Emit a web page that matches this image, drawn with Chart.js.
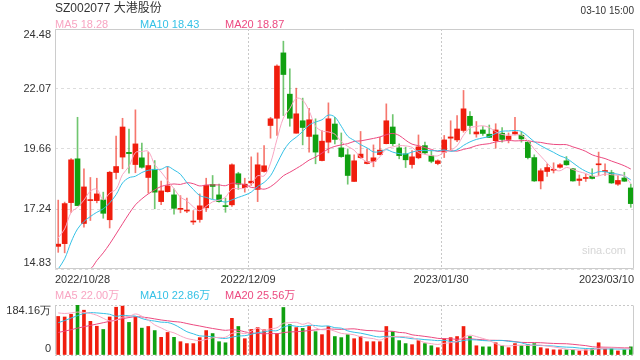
<!DOCTYPE html>
<html>
<head>
<meta charset="utf-8">
<script src="https://cdn.jsdelivr.net/npm/chart.js@4.4.0/dist/chart.umd.min.js"></script>
<style>
  body { margin: 0; background: #fff; }
  #wrap { position: relative; width: 640px; height: 360px; overflow: hidden; font-family: "Liberation Sans", Arial, "Noto Sans CJK SC", sans-serif; }
  #wrap canvas { position: absolute; left: 0; top: 0; }
  .t { position: absolute; white-space: nowrap; font-size: 11px; line-height: 11px; }
</style>
</head>
<body>
<div id="wrap">
  <canvas id="kline" width="640" height="360"></canvas>
  <canvas id="vol" width="640" height="360"></canvas>
  <div class="t" style="left:55px;top:2px;font-size:12px;line-height:12px;color:#333">SZ002077 大港股份</div>
  <div class="t" style="right:6px;top:6px;font-size:10px;line-height:10px;color:#333">03-10 15:00</div>
  <div class="t" style="left:55px;top:19px;color:#f8a5c2">MA5 18.28</div>
  <div class="t" style="left:140px;top:19px;color:#35c1e6">MA10 18.43</div>
  <div class="t" style="left:225px;top:19px;color:#ec4a80">MA20 18.87</div>
  <div class="t" style="left:55px;top:290px;color:#f8a5c2">MA5 22.00万</div>
  <div class="t" style="left:140px;top:290px;color:#35c1e6">MA10 22.86万</div>
  <div class="t" style="left:225px;top:290px;color:#ec4a80">MA20 25.56万</div>
  <div class="t" style="left:582px;top:245px;color:#d6d6d6">sina.com</div>
</div>
<script>
// 交易日
const dates = [
  '2022/10/28','2022/10/31',
  '2022/11/01','2022/11/02','2022/11/03','2022/11/04',
  '2022/11/07','2022/11/08','2022/11/09','2022/11/10','2022/11/11',
  '2022/11/14','2022/11/15','2022/11/16','2022/11/17','2022/11/18',
  '2022/11/21','2022/11/22','2022/11/23','2022/11/24','2022/11/25',
  '2022/11/28','2022/11/29','2022/11/30','2022/12/01','2022/12/02',
  '2022/12/05','2022/12/06','2022/12/07','2022/12/08','2022/12/09',
  '2022/12/12','2022/12/13','2022/12/14','2022/12/15','2022/12/16',
  '2022/12/19','2022/12/20','2022/12/21','2022/12/22','2022/12/23',
  '2022/12/26','2022/12/27','2022/12/28','2022/12/29','2022/12/30',
  '2023/01/03','2023/01/04','2023/01/05','2023/01/06',
  '2023/01/09','2023/01/10','2023/01/11','2023/01/12','2023/01/13',
  '2023/01/16','2023/01/17','2023/01/18','2023/01/19','2023/01/20',
  '2023/01/30','2023/01/31','2023/02/01','2023/02/02','2023/02/03',
  '2023/02/06','2023/02/07','2023/02/08','2023/02/09','2023/02/10',
  '2023/02/13','2023/02/14','2023/02/15','2023/02/16','2023/02/17',
  '2023/02/20','2023/02/21','2023/02/22','2023/02/23','2023/02/24',
  '2023/02/27','2023/02/28','2023/03/01','2023/03/02','2023/03/03',
  '2023/03/06','2023/03/07','2023/03/08','2023/03/09','2023/03/10'
];

// K线 开 收 高 低
const opens = [
  15.74,15.85,17.50,19.26,16.66,17.58,17.58,17.61,16.81,18.71,
  19.33,19.52,19.03,19.30,18.51,18.84,17.54,17.94,17.81,17.23,
  17.16,16.72,16.82,17.29,18.23,17.81,17.36,17.41,18.66,18.10,
  18.29,18.03,18.75,20.60,20.89,23.52,21.86,20.29,20.79,20.16,
  20.22,19.19,19.93,20.66,19.70,19.42,18.35,19.31,19.07,19.16,
  19.43,19.87,20.54,19.70,19.46,19.03,19.30,19.79,19.38,19.07,
  19.53,20.09,20.02,20.40,20.97,20.26,20.42,20.25,19.99,20.29,
  20.04,20.26,20.21,19.93,19.31,18.37,18.75,18.80,18.92,19.18,
  18.86,18.39,18.47,18.56,19.02,18.75,18.70,18.24,18.49,18.09
];
const closes = [
  15.83,17.46,19.22,17.38,18.13,17.62,17.85,17.07,18.72,18.95,
  20.54,19.47,19.86,18.92,18.99,17.92,17.97,18.17,17.27,17.26,
  17.19,16.75,17.37,18.19,18.15,17.54,17.34,19.02,18.24,18.24,
  18.36,19.02,18.98,20.87,22.99,22.65,20.89,21.07,20.52,20.83,
  19.53,19.97,20.87,20.04,19.35,18.59,19.18,19.45,19.14,19.30,
  19.61,20.79,19.87,19.39,19.22,19.34,19.74,19.50,19.16,19.18,
  20.02,20.14,20.46,21.27,20.60,20.34,20.28,20.12,20.42,20.04,
  20.17,20.34,20.06,19.31,18.37,18.78,18.91,18.83,19.02,19.02,
  18.37,18.45,18.50,18.47,19.06,18.79,18.29,18.39,18.36,17.46
];
const highs = [
  17.60,17.52,19.27,20.93,18.86,18.51,18.48,17.92,18.76,20.17,
  20.89,20.46,21.23,19.89,19.53,19.19,18.37,18.95,18.05,17.78,
  17.68,17.18,17.85,18.48,18.59,18.24,17.68,19.06,18.72,18.48,
  19.34,19.50,19.79,20.93,23.04,23.99,22.88,22.10,21.70,21.29,
  20.87,20.40,21.51,20.93,20.30,19.66,19.42,20.36,19.66,19.82,
  20.12,21.47,21.04,19.86,19.73,19.59,20.22,19.93,19.59,19.22,
  20.20,20.79,21.00,22.01,21.16,20.76,20.56,20.62,20.67,20.52,
  20.30,20.93,20.36,19.95,19.42,18.86,19.06,19.10,19.07,19.35,
  18.88,18.61,18.64,18.86,19.53,19.06,18.80,18.59,18.72,18.24
];
const lows = [
  15.50,15.48,17.11,17.38,16.51,16.78,17.49,16.87,16.48,18.45,
  18.86,18.68,18.70,18.88,17.88,17.25,17.42,17.92,17.03,17.09,
  17.09,16.62,16.71,17.14,17.65,17.52,17.11,17.35,18.03,17.92,
  18.19,17.54,18.72,20.09,20.20,21.00,20.57,20.29,19.82,19.53,
  19.06,19.18,19.50,19.86,19.32,18.24,18.35,19.28,19.06,18.94,
  19.42,19.86,19.79,19.26,18.91,18.88,19.26,19.46,19.10,19.02,
  19.31,19.58,19.95,20.33,20.26,20.13,20.20,20.12,19.69,19.93,
  19.90,20.22,19.93,19.26,18.35,18.05,18.55,18.69,18.88,19.00,
  18.36,18.19,18.35,18.45,18.59,18.59,18.27,18.19,18.35,17.31
];

// 均线
const ma5 = [
  16.08,16.44,17.10,17.31,17.60,17.96,18.04,17.61,17.88,18.04,
  18.63,18.95,19.51,19.55,19.56,19.03,18.73,18.39,18.06,17.72,
  17.57,17.33,17.17,17.35,17.53,17.60,17.72,18.05,18.06,18.08,
  18.24,18.58,18.57,19.09,20.04,20.90,21.28,21.69,21.62,21.19,
  20.57,20.38,20.34,20.25,19.95,19.76,19.61,19.32,19.14,19.13,
  19.34,19.66,19.74,19.79,19.78,19.72,19.51,19.44,19.39,19.38,
  19.52,19.60,19.79,20.21,20.50,20.56,20.59,20.52,20.35,20.24,
  20.21,20.22,20.21,19.98,19.65,19.37,19.09,18.84,18.78,18.91,
  18.83,18.74,18.67,18.56,18.57,18.65,18.62,18.60,18.58,18.26
];
const ma10 = [
  14.83,15.24,15.91,16.44,16.74,16.94,17.11,17.25,17.49,17.82,
  18.29,18.50,18.56,18.71,18.80,18.83,18.84,18.95,18.81,18.64,
  18.30,18.03,17.78,17.71,17.62,17.59,17.52,17.61,17.71,17.80,
  17.92,18.15,18.31,18.58,19.06,19.57,19.93,20.13,20.36,20.62,
  20.74,20.83,21.02,20.94,20.57,20.17,20.00,19.83,19.70,19.54,
  19.55,19.63,19.53,19.47,19.45,19.53,19.59,19.59,19.59,19.58,
  19.62,19.56,19.62,19.80,19.94,20.04,20.10,20.16,20.28,20.37,
  20.38,20.40,20.36,20.17,19.95,19.79,19.65,19.52,19.38,19.28,
  19.10,18.91,18.76,18.67,18.74,18.74,18.68,18.64,18.57,18.41
];
const ma20 = [
  14.83,14.83,14.83,14.83,14.83,14.83,15.17,15.48,15.84,16.24,
  16.65,17.05,17.41,17.65,17.85,18.01,18.15,18.21,18.25,18.23,
  18.30,18.26,18.17,18.21,18.21,18.21,18.18,18.28,18.26,18.22,
  18.11,18.09,18.04,18.14,18.34,18.58,18.72,18.87,19.03,19.21,
  19.33,19.49,19.66,19.76,19.82,19.87,19.96,19.98,20.03,20.08,
  20.14,20.23,20.28,20.20,20.01,19.85,19.79,19.71,19.64,19.56,
  19.59,19.59,19.57,19.64,19.70,19.79,19.84,19.87,19.94,19.97,
  20.00,19.98,19.99,19.99,19.94,19.92,19.87,19.84,19.83,19.83,
  19.74,19.66,19.56,19.42,19.34,19.27,19.17,19.08,18.98,18.85
];

// 成交量(万)
const volumes = [
  142,140,150,184.16,165,124,106,94,140,176,
  180,120,140,99,105,90,65,83,65,49,
  42,42,64,90,79,49,45,135,105,60,
  94,101,93,135,79,175,112,101,98,105,
  86,75,105,68,64,75,60,68,49,49,
  49,105,86,53,42,38,53,42,34,27,
  60,64,68,105,68,34,30,30,45,34,
  27,42,34,38,42,27,23,19,19,19,
  19,15,19,23,45,23,23,15,19,30
];
const volMa5 = [
  155,153,155,158,156.8,153.2,146.4,135.2,125.8,128,
  139.2,142,151.2,143,128.8,110.8,99.8,88.4,81.6,70.4,
  60.8,56.2,52.4,57.4,63.4,64.8,65.4,79.6,82.6,78.8,
  87.8,99,90.6,96.6,100.4,116.6,118.8,120.4,113,118.2,
  100.4,93,93.8,87.8,79.6,77.4,74.4,67,63.2,60.2,
  55,64,67.6,68.4,67,64.8,54.4,45.6,41.8,38.8,
  43.2,45.4,50.6,64.8,73,67.8,61,53.4,41.4,34.6,
  33.2,35.6,36.4,35,36.6,36.6,32.8,29.8,26,21.4,
  19.8,18.2,18.2,19,24.2,25,26.6,25.8,25,22
];
const volMa10 = [
  119,127,136,145,153,156,155,153,150,142.4,
  146.2,144.2,143.2,134.4,128.4,125,120.9,119.8,112.3,99.6,
  85.8,78,70.4,69.5,66.9,62.8,60.8,66,70,71.1,
  76.3,82.2,85.1,89.6,89.6,102.2,108.9,105.5,104.8,109.3,
  108.5,105.9,107.1,100.4,98.9,88.9,83.7,80.4,75.5,69.9,
  66.2,69.2,67.3,65.8,63.6,59.9,59.2,56.6,55.1,52.9,
  54,49.9,48.1,53.3,55.9,55.5,53.2,52,53.1,53.8,
  50.5,48.3,44.9,38.2,35.6,34.9,34.2,33.1,30.5,29,
  28.2,25.5,24,22.5,22.8,22.4,22.4,22,22,23.1
];
const volMa20 = [
  83,88,93,99,104,109,114,119,124,129,
  134,138,141,140,137,133,129,126,123,121,
  116,111.1,106.8,102,97.7,93.9,90.9,92.9,91.2,85.4,
  81.1,80.1,77.8,79.6,78.3,82.5,84.9,85.8,87.4,90.2,
  92.4,94.1,96.1,95,94.3,95.6,96.3,93,90.2,89.6,
  87.4,87.6,87.2,83.1,81.3,74.4,71.5,68.5,65.3,61.4,
  60.1,59.6,57.7,59.6,59.8,57.7,56.2,54.3,54.1,53.4,
  52.3,49.1,46.5,45.8,45.8,45.2,43.7,42.6,41.8,41.4,
  39.4,36.9,34.5,30.4,29.2,28.7,28.3,27.6,26.3,26.1
];

const priceTicks = [14.83, 17.24, 19.66, 22.07, 24.48];
const volTicks = [0, 184.16];
const dateTicks = ['2022/10/28', '2022/12/09', '2023/01/30', '2023/03/10'];

const RED = '#f01d0d', GREEN = '#10a010';
const RED_W = 'rgba(240,29,13,0.6)', GREEN_W = 'rgba(16,160,16,0.6)';
const C5 = '#f8a5c2', C10 = '#35c1e6', C20 = '#ec4a80';

Chart.defaults.font.family = '"Liberation Sans", Arial, sans-serif';
Chart.defaults.animation = false;

const isUp = closes.map((c, i) => c >= opens[i]);

function maLine(data, color) {
  return { type: 'line', data: data, borderColor: color, borderWidth: 1, pointRadius: 0, tension: 0.35, fill: false };
}

// 日期轴(只画文字和两条竖虚线)
function dateAxis(showLabels) {
  return {
    type: 'linear', position: 'bottom', min: 0, max: 3,
    afterBuildTicks: s => { s.ticks = dateTicks.map((d, i) => ({ value: i })); },
    afterFit: s => { s.height = showLabels ? 20 : 0; s.paddingLeft = 0; s.paddingRight = 0; },
    grid: { drawTicks: false, color: c => (c.tick && c.tick.value > 0 && c.tick.value < 3) ? '#c8c8c8' : 'rgba(0,0,0,0)' },
    border: { display: false, dash: [2, 2] },
    ticks: { display: showLabels, align: 'inner', padding: 4, color: '#333', font: { size: 11 }, callback: v => dateTicks[v] }
  };
}

function fixY(s) {
  s.width = 55;
  s.paddingTop = 0;
  s.paddingBottom = 0;
}

// 外框
const framePlugin = {
  id: 'frame',
  afterDraw(chart, args, opts) {
    const a = chart.chartArea, c = chart.ctx;
    const l = Math.round(a.left) + 0.5, r = Math.round(a.right) - 0.5;
    const t = Math.round(a.top) + 0.5, b = Math.round(a.bottom) - 0.5;
    c.save();
    c.strokeStyle = '#cccccc';
    c.lineWidth = 1;
    c.beginPath();
    c.moveTo(l, t); c.lineTo(l, b);
    c.moveTo(r, t); c.lineTo(r, b);
    if (opts.full) {
      c.moveTo(l, t); c.lineTo(r, t);
      c.moveTo(l, b); c.lineTo(r, b);
    }
    c.stroke();
    c.restore();
  }
};

new Chart(document.getElementById('kline'), {
  data: {
    labels: dates,
    datasets: [
      maLine(ma5, C5),
      maLine(ma10, C10),
      maLine(ma20, C20),
      {
        type: 'bar', grouped: false, barThickness: 5, minBarLength: 1,
        data: opens.map((o, i) => [o, closes[i]]),
        backgroundColor: isUp.map(u => u ? RED : GREEN)
      },
      {
        type: 'bar', grouped: false, barThickness: 1,
        data: lows.map((l, i) => [l, highs[i]]),
        backgroundColor: isUp.map(u => u ? RED_W : GREEN_W)
      }
    ]
  },
  options: {
    responsive: false,
    events: [],
    layout: { padding: { top: 29, right: 6, bottom: 71, left: 0 } },
    plugins: { legend: { display: false }, tooltip: { enabled: false }, frame: { full: true } },
    scales: {
      x: { type: 'category', display: false, offset: true },
      xd: dateAxis(true),
      y: {
        min: priceTicks[0], max: priceTicks[4],
        afterBuildTicks: s => { s.ticks = priceTicks.map(v => ({ value: v })); },
        afterFit: fixY,
        grid: { drawTicks: false, color: '#dddddd' },
        border: { display: false, dash: [3, 3] },
        ticks: {
          padding: 4, color: '#333', font: { size: 11, lineHeight: 1.1 },
          callback: v => v === priceTicks[4] ? ['', v.toFixed(2)] : (v === priceTicks[0] ? [v.toFixed(2), ''] : v.toFixed(2))
        }
      }
    }
  },
  plugins: [framePlugin]
});

new Chart(document.getElementById('vol'), {
  data: {
    labels: dates,
    datasets: [
      maLine(volMa5, C5),
      maLine(volMa10, C10),
      maLine(volMa20, C20),
      {
        type: 'bar', grouped: false, barThickness: 3,
        data: volumes,
        backgroundColor: isUp.map(u => u ? RED : GREEN)
      }
    ]
  },
  options: {
    responsive: false,
    events: [],
    layout: { padding: { top: 305, right: 6, bottom: 5, left: 0 } },
    plugins: { legend: { display: false }, tooltip: { enabled: false }, frame: { full: false } },
    scales: {
      x: { type: 'category', display: false, offset: true },
      xd: dateAxis(false),
      y: {
        min: volTicks[0], max: volTicks[1],
        afterBuildTicks: s => { s.ticks = volTicks.map(v => ({ value: v })); },
        afterFit: fixY,
        grid: { drawTicks: false, color: '#c8c8c8' },
        border: { display: false, dash: [2, 2] },
        ticks: {
          padding: 4, color: '#333', font: { size: 11, lineHeight: 1.1 },
          callback: v => v === volTicks[1] ? ['', v.toFixed(2) + '万'] : [String(v), '']
        }
      }
    }
  },
  plugins: [framePlugin]
});
</script>
</body>
</html>
